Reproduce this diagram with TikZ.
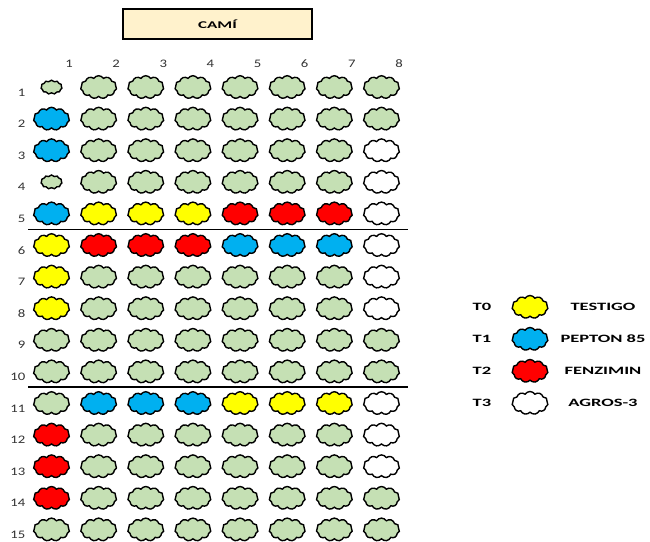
\documentclass[tikz,border=0pt]{standalone}
\usepackage{fontspec}
\setmainfont{Carlito}
\newfontfamily\widereg[FakeStretch=1.28]{Carlito}
\newfontfamily\widebold[FakeStretch=1.65]{Carlito Bold}
\usetikzlibrary{shapes.symbols}
\definecolor{plantgreen}{HTML}{C5E0B4}
\definecolor{tblue}{HTML}{00B0F0}
\definecolor{tyellow}{HTML}{FFFF00}
\definecolor{tred}{HTML}{FF0000}
\definecolor{camifill}{HTML}{FFF2CC}
\tikzset{
  plant/.style={cloud, cloud puffs=11, cloud puff arc=115, aspect=1.6, draw=black,
    line width=1.4pt, minimum width=36pt, minimum height=23pt, inner sep=0pt},
  code-g/.style={fill=plantgreen},
  code-s/.style={fill=plantgreen, minimum width=21pt, minimum height=14pt},
  code-b/.style={fill=tblue},
  code-y/.style={fill=tyellow},
  code-r/.style={fill=tred},
  code-w/.style={fill=white},
  numlabel/.style={font=\widereg\fontsize{11.5}{13}\selectfont, text=black!80, inner sep=0pt},
  rowlabel/.style={numlabel, anchor=east},
  legtext/.style={font=\widebold\fontsize{11.2}{13}\selectfont, inner sep=0pt},
  camibox/.style={draw=black, line width=2pt, fill=camifill, minimum width=189pt,
    minimum height=30pt, inner sep=0pt, font=\widebold\fontsize{10.3}{12}\selectfont},
  sepline/.style={line width=1.8pt}
}
\begin{document}
\begin{tikzpicture}[x=1pt,y=-1pt]
\useasboundingbox (0,0) rectangle (650,541);
\node[camibox] (cami) at (217.5,24) {CAMÍ};
% column labels
\foreach \col in {1,...,8} {
  \node[numlabel] (col-\col) at ({69+(\col-1)*47.14},64) {\col};
}
% row labels
\foreach \row in {1,...,15} {
  \node[rowlabel] (row-\row) at (25.5,{92.4+(\row-1)*31.6}) {\row};
}
% plants
\foreach \row/\codes in {
  1/{s,g,g,g,g,g,g,g},
  2/{b,g,g,g,g,g,g,g},
  3/{b,g,g,g,g,g,g,w},
  4/{s,g,g,g,g,g,g,w},
  5/{b,y,y,y,r,r,r,w},
  6/{y,r,r,r,b,b,b,w},
  7/{y,g,g,g,g,g,g,w},
  8/{y,g,g,g,g,g,g,w},
  9/{g,g,g,g,g,g,g,g},
  10/{g,g,g,g,g,g,g,g},
  11/{g,b,b,b,y,y,y,w},
  12/{r,g,g,g,g,g,g,w},
  13/{r,g,g,g,g,g,g,w},
  14/{r,g,g,g,g,g,g,g},
  15/{g,g,g,g,g,g,g,g}} {
  \foreach \c [count=\col] in \codes {
    \node[plant, code-\c] (p-\row-\col) at ({51.5+(\col-1)*47.14},{87.2+(\row-1)*31.6}) {};
  }
}
% separator lines
\coordinate (s1l) at (28,229.5);
\coordinate (s1r) at (408,229.5);
\coordinate (s2l) at (28,386.7);
\coordinate (s2r) at (408,386.7);
\draw[sepline] (s1l) -- (s1r);
\draw[sepline] (s2l) -- (s2r);
% legend
\foreach \i/\t/\c/\name in {0/T0/y/TESTIGO,1/T1/b/PEPTON 85,2/T2/r/FENZIMIN,3/T3/w/AGROS-3} {
  \node[legtext] (lt-\i) at (482,{307+\i*32}) {\t};
  \node[plant, code-\c] (lc-\i) at (530,{307+\i*32}) {};
  \node[legtext] (ln-\i) at (603,{307+\i*32}) {\name};
}
\end{tikzpicture}
\end{document}
